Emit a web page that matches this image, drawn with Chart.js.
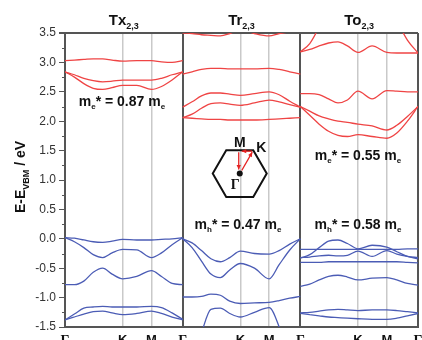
<!DOCTYPE html>
<html>
<head>
<meta charset="utf-8">
<script src="https://cdn.jsdelivr.net/npm/chart.js@4.4.0/dist/chart.umd.min.js"></script>
<style>
body { margin: 0; background: #fff; }
#wrap { width: 422px; height: 340px; }
</style>
</head>
<body>
<div id="wrap"><canvas id="bands"></canvas></div>
<script>
// sample points along Γ-K-M-Γ inside one panel
const kpath = [0, 0.08, 0.16, 0.24, 0.32, 0.40, 0.49, 0.61, 0.735, 0.82, 0.91, 1];

const panelNames = ['Tx', 'Tr', 'To'];
const xTickPos = [0, 0.49, 0.735, 1, 1.49, 1.735, 2, 2.49, 2.735, 3];
const xTickLabels = ['Γ', 'K', 'M', 'Γ', 'K', 'M', 'Γ', 'K', 'M', 'Γ'];

// Tx2,3
const txCond = [
    [3.03, 3.04, 3.05, 3.06, 3.06, 3.04, 3.02, 3.03, 3.03, 3.01, 3.00, 3.03],
    [2.84, 2.79, 2.73, 2.69, 2.67, 2.68, 2.70, 2.70, 2.70, 2.73, 2.79, 2.84],
    [2.84, 2.75, 2.64, 2.56, 2.54, 2.57, 2.61, 2.61, 2.54, 2.59, 2.70, 2.84]
];
const txVal = [
    [0.02, 0.01, -0.02, -0.05, -0.06, -0.04, -0.01, -0.02, -0.02, -0.01, 0.00, 0.02],
    [0.02, -0.05, -0.15, -0.27, -0.32, -0.24, -0.18, -0.19, -0.32, -0.24, -0.10, 0.02],
    [-0.78, -0.78, -0.72, -0.57, -0.50, -0.60, -0.68, -0.64, -0.54, -0.64, -0.76, -0.78],
    [-1.38, -1.28, -1.18, -1.16, -1.15, -1.16, -1.16, -1.16, -1.15, -1.17, -1.26, -1.37],
    [-1.38, -1.33, -1.28, -1.24, -1.23, -1.26, -1.29, -1.27, -1.23, -1.27, -1.33, -1.38]
];

// Tr2,3
const trCond = [
    [3.50, 3.49, 3.47, 3.46, 3.45, 3.49, 3.56, 3.49, 3.45, 3.49, 3.52, 3.55],
    [2.80, 2.84, 2.88, 2.90, 2.90, 2.89, 2.89, 2.89, 2.90, 2.88, 2.84, 2.80],
    [2.24, 2.33, 2.43, 2.48, 2.48, 2.46, 2.44, 2.47, 2.50, 2.45, 2.34, 2.24],
    [2.06, 2.12, 2.22, 2.30, 2.31, 2.29, 2.27, 2.31, 2.36, 2.33, 2.28, 2.24],
    [2.06, 2.05, 2.04, 2.03, 2.03, 2.02, 2.02, 2.02, 2.03, 2.04, 2.05, 2.06]
];
const trVal = [
    [0.00, -0.07, -0.20, -0.34, -0.39, -0.32, -0.21, -0.25, -0.26, -0.20, -0.09, 0.00],
    [0.00, -0.15, -0.38, -0.60, -0.66, -0.53, -0.42, -0.50, -0.68, -0.44, -0.19, 0.00],
    [-0.99, -0.99, -0.98, -0.94, -0.96, -1.06, -1.10, -1.09, -1.08, -1.05, -1.01, -0.98],
    [null, -2.10, -1.60, -1.20, -1.18, -1.27, -1.33, -1.25, -1.17, -1.50, -2.10, null]
];

// To2,3
const toCond = [
    [3.18, 3.32, 3.60, 3.90, null, null, null, null, null, 3.70, 3.38, 3.16],
    [3.18, 3.22, 3.28, 3.33, 3.35, 3.28, 3.17, 3.28, 3.17, 3.16, 3.16, 3.16],
    [2.47, 2.47, 2.45, 2.38, 2.31, 2.36, 2.51, 2.38, 2.52, 2.51, 2.50, 2.50],
    [2.25, 2.17, 2.09, 2.04, 2.00, 1.98, 1.95, 1.92, 1.85, 1.93, 2.08, 2.25],
    [2.25, 2.10, 1.95, 1.83, 1.76, 1.74, 1.77, 1.74, 1.71, 1.80, 2.00, 2.25]
];
const toVal = [
    [-0.18, -0.18, -0.18, -0.18, -0.18, -0.18, -0.18, -0.18, -0.18, -0.18, -0.17, -0.17],
    [-0.33, -0.27, -0.15, -0.04, -0.02, -0.08, -0.17, -0.11, -0.14, -0.22, -0.30, -0.34],
    [-0.32, -0.31, -0.29, -0.28, -0.29, -0.28, -0.21, -0.30, -0.20, -0.26, -0.30, -0.32],
    [-0.40, -0.40, -0.40, -0.39, -0.39, -0.39, -0.39, -0.39, -0.39, -0.39, -0.40, -0.41],
    [-0.81, -0.77, -0.70, -0.64, -0.62, -0.65, -0.70, -0.67, -0.66, -0.70, -0.76, -0.79],
    [-1.26, -1.25, -1.23, -1.21, -1.20, -1.21, -1.22, -1.21, -1.21, -1.22, -1.24, -1.26],
    [-1.27, -1.29, -1.31, -1.33, -1.34, -1.35, -1.36, -1.37, -1.37, -1.35, -1.31, -1.27]
];

// effective mass labels: carrier, value, anchor (x, E)
const massCarrier = ['e', 'h', 'e', 'h'];
const massValue = ['0.87', '0.47', '0.55', '0.58'];
const massAnchor = [[0.484, 2.256], [1.47, 0.161], [2.49, 1.337], [2.49, 0.161]];

const RED = '#ef4444';
const BLUE = '#4b5cb5';
const FF = '"Liberation Sans", Arial, sans-serif';

function band(panel, vals, color) {
    return {
        data: kpath.map((k, i) => ({ x: panel + k, y: vals[i] })),
        borderColor: color,
        borderWidth: 1.3,
        pointRadius: 0,
        fill: false,
        cubicInterpolationMode: 'monotone'
    };
}

var datasets = [];
[txCond, trCond, toCond].forEach((set, p) => set.forEach(v => datasets.push(band(p, v, RED))));
[txVal, trVal, toVal].forEach((set, p) => set.forEach(v => datasets.push(band(p, v, BLUE))));

function drawParts(ctx, parts, cx, base) {
    var total = 0;
    parts.forEach(p => { ctx.font = p[1]; total += ctx.measureText(p[0]).width; });
    var x = cx - total / 2;
    ctx.textAlign = 'left';
    ctx.textBaseline = 'alphabetic';
    parts.forEach(p => {
        ctx.font = p[1];
        ctx.fillText(p[0], x, base + p[2]);
        x += ctx.measureText(p[0]).width;
    });
}

function arrow(ctx, x1, y1, x2, y2) {
    var a = Math.atan2(y2 - y1, x2 - x1), h = 5;
    ctx.beginPath();
    ctx.moveTo(x1, y1);
    ctx.lineTo(x2, y2);
    ctx.stroke();
    ctx.beginPath();
    ctx.moveTo(x2, y2);
    ctx.lineTo(x2 - h * Math.cos(a - 0.45), y2 - h * Math.sin(a - 0.45));
    ctx.lineTo(x2 - h * Math.cos(a + 0.45), y2 - h * Math.sin(a + 0.45));
    ctx.closePath();
    ctx.fill();
}

function noPad(scale) {
    scale.paddingLeft = 0;
    scale.paddingRight = 0;
    scale.paddingTop = 0;
    scale.paddingBottom = 0;
}

const decor = {
    id: 'decor',
    afterDraw(chart) {
        const ctx = chart.ctx, xs = chart.scales.x, ys = chart.scales.y, area = chart.chartArea;
        ctx.save();
        // minor ticks
        ctx.strokeStyle = '#555';
        ctx.lineWidth = 1;
        for (var v = -1.25; v < 3.5; v += 0.5) {
            var y = Math.round(ys.getPixelForValue(v)) + 0.5;
            ctx.beginPath();
            ctx.moveTo(area.left - 3, y);
            ctx.lineTo(area.left, y);
            ctx.stroke();
        }
        ctx.fillStyle = '#111';
        // panel titles
        panelNames.forEach((n, i) => {
            drawParts(ctx, [[n, 'bold 15px ' + FF, 0], ['2,3', 'bold 9px ' + FF, 4]], xs.getPixelForValue(i + 0.5), 25);
        });
        // effective masses
        massCarrier.forEach((c, i) => {
            drawParts(ctx, [
                ['m', 'bold 14px ' + FF, 0],
                [c, 'bold 8px ' + FF, 3],
                ['* = ' + massValue[i] + ' m', 'bold 14px ' + FF, 0],
                ['e', 'bold 8px ' + FF, 3]
            ], xs.getPixelForValue(massAnchor[i][0]), ys.getPixelForValue(massAnchor[i][1]));
        });
        // y axis title
        ctx.save();
        ctx.translate(25, 177);
        ctx.rotate(-Math.PI / 2);
        drawParts(ctx, [['E-E', 'bold 14px ' + FF, 0], ['VBM', 'bold 9px ' + FF, 4], [' / eV', 'bold 14px ' + FF, 0]], 0, 0);
        ctx.restore();
        // Brillouin zone inset
        var cx = xs.getPixelForValue(1.485), cy = ys.getPixelForValue(1.11), r = 27;
        var hx = r / 2, hy = r * Math.sqrt(3) / 2;
        ctx.strokeStyle = '#111';
        ctx.lineWidth = 2;
        ctx.beginPath();
        ctx.moveTo(cx - hx, cy - hy);
        ctx.lineTo(cx + hx, cy - hy);
        ctx.lineTo(cx + r, cy);
        ctx.lineTo(cx + hx, cy + hy);
        ctx.lineTo(cx - hx, cy + hy);
        ctx.lineTo(cx - r, cy);
        ctx.closePath();
        ctx.stroke();
        ctx.strokeStyle = '#e52222';
        ctx.fillStyle = '#e52222';
        ctx.lineWidth = 1.3;
        arrow(ctx, cx + 2, cy - 3, cx + hx - 1, cy - hy + 2);
        arrow(ctx, cx + hx - 1, cy - hy + 1, cx + 2, cy - hy + 1);
        arrow(ctx, cx - 1, cy - hy + 2, cx - 1, cy - 4);
        ctx.fillStyle = '#111';
        ctx.beginPath();
        ctx.arc(cx, cy, 3, 0, Math.PI * 2);
        ctx.fill();
        ctx.font = 'bold 14px ' + FF;
        ctx.textAlign = 'center';
        ctx.fillText('M', cx, cy - hy - 3);
        ctx.textAlign = 'left';
        ctx.fillText('K', cx + hx + 3, cy - hy + 2);
        ctx.font = 'bold 14px "Liberation Serif", serif';
        ctx.fillText('Γ', cx - 9, cy + 15);
        ctx.restore();
    }
};

new Chart(document.getElementById('bands'), {
    type: 'line',
    data: { datasets: datasets },
    options: {
        responsive: true,
        maintainAspectRatio: false,
        devicePixelRatio: 1,
        animation: false,
        layout: { padding: { top: 33, right: 4, left: 0, bottom: 0 } },
        plugins: { legend: { display: false }, tooltip: { enabled: false } },
        scales: {
            x: {
                type: 'linear',
                min: 0,
                max: 3,
                afterBuildTicks: function(scale) {
                    scale.ticks = xTickPos.map(v => ({ value: v }));
                },
                afterFit: function(scale) { scale.height = 13; noPad(scale); },
                border: { display: true, color: '#555', width: 2 },
                grid: {
                    drawTicks: false,
                    color: c => (c.tick && Number.isInteger(c.tick.value)) ? '#555' : '#c9c9c9',
                    lineWidth: c => (c.tick && Number.isInteger(c.tick.value)) ? 2 : 1.5
                },
                ticks: {
                    padding: 6,
                    maxRotation: 0,
                    autoSkip: false,
                    color: '#111',
                    font: c => xTickLabels[c.index] === 'Γ' ?
                        { family: '"Liberation Serif", serif', size: 14, weight: 'bold' } :
                        { family: FF, size: 13, weight: 'bold' },
                    callback: (v, i) => xTickLabels[i]
                }
            },
            y: {
                min: -1.5,
                max: 3.5,
                afterFit: function(scale) { scale.width = 65; noPad(scale); },
                border: { display: true, color: '#555', width: 2 },
                grid: {
                    tickLength: 6,
                    tickColor: '#555',
                    color: c => (c.tick && c.tick.value === 3.5) ? '#555' : 'rgba(0,0,0,0)',
                    lineWidth: c => (c.tick && c.tick.value === 3.5) ? 2 : 1
                },
                ticks: {
                    stepSize: 0.5,
                    padding: 3,
                    color: '#333',
                    font: { family: FF, size: 12 },
                    callback: v => v.toFixed(1)
                }
            }
        }
    },
    plugins: [decor]
});
</script>
</body>
</html>
